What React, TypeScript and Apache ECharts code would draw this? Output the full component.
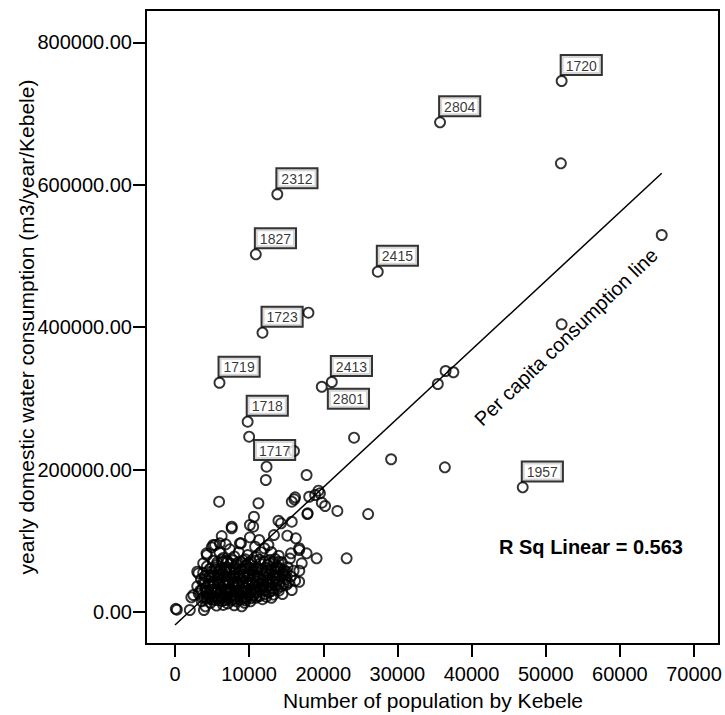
import React, { useEffect, useRef } from 'react';
import * as echarts from 'echarts';

// Axis ticks
const xTicks = [0, 10000, 20000, 30000, 40000, 50000, 60000, 70000];
const yTicks = [0, 200000, 400000, 600000, 800000];
const X_MIN = -3911;
const X_MAX = 73375;
const Y_MIN = -44944;
const Y_MAX = 845509;

// Labelled Kebeles
const labelIds = ['1720', '2804', '2312', '1827', '2415', '1723', '1719', '2413', '2801', '1718', '1717', '1957'];
const labelPopulation = [52150, 35750, 13800, 10900, 27350, 11800, 6000, 21150, 19800, 9800, 16050, 46900];
const labelConsumption = [745800, 687800, 586700, 502400, 478000, 392300, 322000, 323000, 316400, 267300, 226100, 175100];

// Other scattered Kebeles
const outlierPoints: [number, number][] = [
  [52050, 630200], [65650, 529500], [52150, 404100], [18000, 420400],
  [35450, 320200], [36500, 338500], [37550, 336700], [10000, 246200],
  [12350, 204100], [12250, 185400], [24150, 244800], [29150, 214500],
  [36400, 203200], [21900, 141900], [26050, 137600], [23150, 75400],
  [5950, 154900], [17750, 192400], [11250, 152700],
];

// Dense cluster of Kebeles
const clusterPoints: [number, number][] = [
  [100, 4500], [250, 3200], [2000, 2800], [3900, 2800], [2200, 20600], [2470, 23900],
  [5400, 16900], [6750, 16800], [9670, 19200], [11000, 28500], [14500, 25300], [15750, 30900],
  [16750, 42500], [12350, 35500], [3000, 56600], [3150, 54300], [3800, 68400], [4300, 80000],
  [5150, 94100], [6050, 96500], [6850, 95100], [7650, 119800], [8900, 96500], [10100, 122200],
  [5400, 94000], [4950, 90900], [4250, 82400], [6300, 106700], [8750, 96400], [10100, 104900],
  [11350, 101100], [10800, 91700], [12050, 89500], [7650, 117600], [10650, 133800], [10550, 119800],
  [12600, 94100], [13350, 108100], [15150, 107200], [16300, 103500], [13950, 128200], [14300, 124600],
  [15750, 126800], [17850, 137600], [15750, 154900], [16200, 161100], [18100, 161900], [18900, 164300],
  [19550, 166700], [19800, 153500], [20250, 148900], [15650, 82400], [16750, 87100], [17750, 82400],
  [19100, 75400], [17100, 68400], [13950, 70600], [13950, 61400], [15050, 56600], [19350, 170400],
  [16100, 158300], [17900, 138600], [16750, 89500], [12800, 47700], [14600, 54300], [16770, 58000],
  [14600, 56600],
  [6500, 76000], [8000, 78000], [9500, 74000], [11000, 77000], [12800, 73000], [14000, 79000], [5200, 72000],
  [4300, 64000], [5600, 66000], [7000, 63000], [8300, 67000], [9700, 65000], [11200, 62000], [12500, 66000],
  [13800, 64000], [15200, 63000],
  [3800, 55000], [4900, 57000], [6100, 54000], [7300, 58000], [8600, 55000], [9900, 53000], [11000, 57000],
  [12300, 54000], [13600, 56000], [14800, 52000],
  [3500, 46000], [4600, 44000], [5700, 47000], [6800, 45000], [7900, 43000], [9000, 46000], [10200, 44000],
  [11400, 47000], [12600, 45000], [13700, 43000], [15000, 46000], [16200, 44000],
  [3000, 36000], [4100, 34000], [5200, 37000], [6300, 35000], [7400, 33000], [8500, 36000], [9600, 34000],
  [10800, 37000], [11900, 35000], [13100, 33000], [14300, 36000],
  [3200, 26000], [4400, 24000], [5500, 27000], [6600, 25000], [7700, 23000], [8800, 26000], [9900, 24000],
  [11000, 27000], [12200, 25000],
  [3600, 15000], [4800, 13000], [6000, 16000], [7100, 12000], [8300, 15000], [9400, 13000],
  [5000, 50000], [6000, 40000], [7000, 50000], [8000, 30000], [9000, 60000], [10000, 40000], [7500, 68000],
  [6200, 60000], [5500, 30000], [4500, 20000], [8700, 48000], [9300, 20000], [10500, 58000], [11700, 40000],
  [12000, 30000], [6800, 28000], [7800, 38000], [5800, 52000], [10300, 70000], [12900, 60000], [13200, 50000],
  [14400, 70000], [15500, 75000], [16000, 58000], [14600, 40000],
  [4000, 40000], [4700, 52000], [5300, 60000], [5900, 43000], [6400, 70000], [6900, 56000], [7200, 40000],
  [7600, 48000], [8100, 60000], [8400, 42000], [8900, 70000], [9200, 52000], [9600, 44000], [10100, 62000],
  [10600, 48000], [11100, 52000], [11500, 68000], [11900, 44000], [12400, 58000], [12700, 38000], [13300, 70000],
  [13700, 48000], [14200, 60000], [4200, 28000], [4700, 38000], [5200, 22000], [5800, 32000], [6300, 20000],
  [6700, 38000], [7300, 28000], [7800, 18000], [8200, 33000], [8700, 22000], [9200, 30000], [9800, 28000],
  [10400, 32000], [10900, 20000], [11500, 30000], [12700, 28000], [13500, 38000], [3400, 30000], [3700, 20000],
  [4100, 8000], [5600, 9000], [6500, 10000], [8000, 9500], [9000, 8000], [10200, 15000], [11800, 18000],
  [13000, 20000], [14000, 30000], [15000, 38000], [15600, 50000], [7000, 72000], [8600, 84000], [9800, 80000],
  [11600, 84000], [13000, 84000], [6000, 84000], [7400, 88000],
  [4300, 18500], [5000, 17500], [5800, 19500], [6400, 15500], [7100, 18500], [7600, 16000], [8200, 19000],
  [8800, 17000], [9500, 16500], [10300, 19500], [11000, 22000],
  [3900, 21500], [4700, 22500], [5400, 20500], [6100, 23000], [6900, 21000], [7500, 22000], [8100, 21500],
  [8700, 23500], [9600, 21000], [10500, 23500], [11400, 22500], [12300, 21500], [13300, 24500],
  [3600, 31000], [4300, 29500], [4900, 31500], [5600, 29000], [6200, 31000], [6900, 30500], [7600, 31500],
  [8300, 29000], [8900, 31000], [9500, 30000], [10200, 28500], [10800, 31500], [11500, 33000], [12300, 31500],
  [13000, 29500], [13800, 32500],
  [3800, 41000], [4500, 39000], [5200, 42000], [5900, 38500], [6500, 41500], [7100, 43500], [7800, 41000],
  [8500, 39500], [9100, 41500], [9800, 38500], [10500, 41000], [11100, 42500], [11800, 38000], [12500, 41000],
  [13200, 42500], [14000, 39500], [15300, 41000],
  [4000, 50500], [4600, 48500], [5300, 51500], [6000, 48000], [6600, 50500], [7300, 52500], [8000, 49500],
  [8600, 51500], [9300, 48500], [10000, 50500], [10700, 52500], [11300, 49500], [12000, 51000], [12700, 52500],
  [13400, 48000], [14100, 51000], [14900, 49000],
  [4700, 60500], [5500, 62500], [6100, 58500], [6800, 61000], [7500, 59500], [8100, 62500], [8800, 58000],
  [9500, 61500], [10200, 59000], [10900, 61000], [11700, 59500], [12300, 62500], [13100, 58000], [13800, 61500],
  [14700, 59000],
  [5700, 69500], [6300, 73500], [7100, 70500], [7800, 72500], [8500, 69500], [9200, 72500], [9900, 69000],
  [10700, 72000], [11400, 73500], [12100, 70500], [12800, 68500], [13500, 74500],
];

// Fitted per-capita consumption line
const fitLineX = [0, 65650];
const fitIntercept = -18250;
const fitSlope = 9.664;

const FONT = '"Liberation Sans", Arial, Helvetica, sans-serif';

const labelOffsets: Record<string, number[]> = {
  '1717': [-33, -4],
  '2801': [13, 9],
};

export default function App() {
  const ref = useRef<HTMLDivElement>(null);

  useEffect(() => {
    document.body.style.margin = '0';
    if (!ref.current) return;
    const chart = echarts.init(ref.current, null, { renderer: 'svg' });

    const pointStyle = { color: 'rgba(0,0,0,0)', borderColor: '#000', borderWidth: 1.9 };

    const labelledData = labelIds.map((id, i) => ({
      value: [labelPopulation[i], labelConsumption[i]],
      label: {
        show: true,
        formatter: id,
        position: labelOffsets[id] || [6, -19],
        fontSize: 14,
        lineHeight: 15,
        fontFamily: FONT,
        color: '#000',
        backgroundColor: '#fff',
        borderColor: '#000',
        borderWidth: 2,
        padding: [2, 4, 1, 4],
      },
    }));

    chart.setOption({
      animation: false,
      grid: {
        left: 146,
        top: 10,
        width: 573,
        height: 634,
        show: true,
        borderColor: '#000',
        borderWidth: 2,
        backgroundColor: '#fff',
      },
      xAxis: {
        type: 'value',
        min: X_MIN,
        max: X_MAX,
        axisLine: { show: false, onZero: false },
        splitLine: { show: false },
        axisTick: { show: true, length: 13, customValues: xTicks, lineStyle: { color: '#000', width: 2 } },
        axisLabel: {
          customValues: xTicks,
          margin: 20,
          fontSize: 20,
          fontFamily: FONT,
          color: '#000',
          formatter: (v: number) => String(v),
        },
      },
      yAxis: {
        type: 'value',
        min: Y_MIN,
        max: Y_MAX,
        axisLine: { show: false, onZero: false },
        splitLine: { show: false },
        axisTick: { show: true, length: 13, customValues: yTicks, lineStyle: { color: '#000', width: 2 } },
        axisLabel: {
          customValues: yTicks,
          margin: 14,
          fontSize: 20,
          fontFamily: FONT,
          color: '#000',
          formatter: (v: number) => v.toFixed(2),
        },
      },
      series: [
        {
          type: 'line',
          data: fitLineX.map((x) => [x, fitIntercept + fitSlope * x]),
          symbol: 'none',
          lineStyle: { color: '#000', width: 1.5 },
          silent: true,
          z: 1,
        },
        {
          type: 'scatter',
          data: clusterPoints,
          symbol: 'circle',
          symbolSize: 10,
          itemStyle: pointStyle,
          silent: true,
          z: 2,
        },
        {
          type: 'scatter',
          data: outlierPoints,
          symbol: 'circle',
          symbolSize: 10,
          itemStyle: pointStyle,
          silent: true,
          z: 2,
        },
        {
          type: 'scatter',
          data: labelledData,
          symbol: 'circle',
          symbolSize: 10,
          itemStyle: pointStyle,
          silent: true,
          z: 3,
        },
      ],
      graphic: [
        {
          type: 'text',
          x: 26,
          y: 327,
          rotation: Math.PI / 2,
          style: {
            text: 'yearly domestic water consumption (m3/year/Kebele)',
            fontSize: 21,
            fontFamily: FONT,
            fill: '#000',
            align: 'center',
            verticalAlign: 'middle',
            textAlign: 'center',
            textVerticalAlign: 'middle',
          },
        },
        {
          type: 'text',
          x: 433,
          y: 700,
          style: {
            text: 'Number of population by Kebele',
            fontSize: 21,
            fontFamily: FONT,
            fill: '#000',
            align: 'center',
            verticalAlign: 'middle',
            textAlign: 'center',
            textVerticalAlign: 'middle',
          },
        },
        {
          type: 'text',
          x: 591,
          y: 547,
          style: {
            text: 'R Sq Linear = 0.563',
            fontSize: 20,
            fontWeight: 'bold',
            fontFamily: FONT,
            fill: '#000',
            align: 'center',
            verticalAlign: 'middle',
            textAlign: 'center',
            textVerticalAlign: 'middle',
          },
        },
        {
          type: 'text',
          x: 566,
          y: 337,
          rotation: (44 * Math.PI) / 180,
          style: {
            text: 'Per capita consumption line',
            fontSize: 20,
            fontFamily: FONT,
            fill: '#000',
            align: 'center',
            verticalAlign: 'middle',
            textAlign: 'center',
            textVerticalAlign: 'middle',
          },
        },
      ],
    });

    return () => chart.dispose();
  }, []);

  return <div ref={ref} style={{ width: 725, height: 715 }} />;
}
